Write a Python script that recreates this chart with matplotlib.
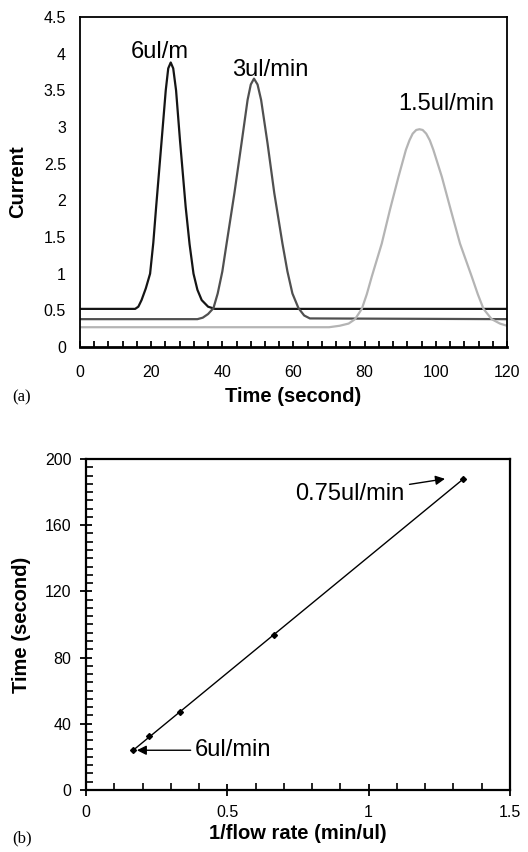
import numpy as np
import matplotlib
matplotlib.use("Agg")
import matplotlib.pyplot as plt
from matplotlib.ticker import MultipleLocator

plt.rcParams['font.family'] = ['Liberation Sans', 'DejaVu Sans']

# ---- (a) peaks ----
t_6 = [0, 15.5, 16.4, 17.3, 18.5, 19.7, 20.6, 21.4, 22.95, 24.1, 24.8, 25.5, 26.2, 27.0, 28.1, 29.7, 30.8, 31.9, 33.0, 34.2, 36.0, 37.9, 120]
i_6 = [0.52, 0.52, 0.55, 0.64, 0.80, 1.00, 1.42, 1.91, 2.82, 3.50, 3.80, 3.88, 3.80, 3.50, 2.82, 1.91, 1.40, 1.00, 0.78, 0.64, 0.55, 0.52, 0.52]

t_3 = [0, 33.0, 34.5, 36.0, 37.5, 38.7, 40.0, 41.2, 43.4, 45.4, 47.1, 48.0, 48.9, 49.9, 50.9, 52.7, 54.6, 56.9, 58.3, 59.7, 61.4, 63.0, 64.6, 120]
i_3 = [0.38, 0.38, 0.40, 0.45, 0.53, 0.73, 1.03, 1.41, 2.10, 2.78, 3.37, 3.58, 3.66, 3.58, 3.37, 2.78, 2.10, 1.41, 1.03, 0.73, 0.53, 0.43, 0.39, 0.38]

t_15 = [0, 70.0, 73.0, 75.5, 77.3, 79.2, 80.6, 82.0, 84.8, 87.1, 89.5, 91.6, 92.6, 93.5, 94.5, 95.4, 96.3, 97.3, 98.3, 99.3, 101.7, 104.2, 106.8, 110.1, 111.8, 113.4, 115.7, 118.0, 120]
i_15 = [0.27, 0.27, 0.29, 0.32, 0.38, 0.52, 0.72, 0.96, 1.41, 1.87, 2.32, 2.69, 2.82, 2.91, 2.96, 2.97, 2.96, 2.91, 2.82, 2.69, 2.32, 1.87, 1.41, 0.96, 0.72, 0.52, 0.38, 0.32, 0.29]

# ---- (b) peak time vs 1/flow rate ----
inv_flow = [1 / 6, 1 / 4.5, 1 / 3, 1 / 1.5, 1 / 0.75]
peak_time = [24, 32.5, 47, 93.5, 188]

fig = plt.figure(figsize=(5.28, 8.52), dpi=100)

# ================= (a) =================
ax1 = fig.add_axes([0.1515, 0.5927, 0.8087, 0.3873])
ax1.plot(t_6, i_6, color='#151515', lw=1.6, solid_joinstyle='round')
ax1.plot(t_3, i_3, color='#505050', lw=1.6, solid_joinstyle='round')
ax1.plot(t_15, i_15, color='#b4b4b4', lw=1.6, solid_joinstyle='round')

ax1.set_xlim(0, 120)
ax1.set_ylim(0, 4.5)
ax1.xaxis.set_major_locator(MultipleLocator(20))
ax1.xaxis.set_minor_locator(MultipleLocator(4))
ax1.set_yticks(np.arange(0, 4.51, 0.5))
ax1.set_yticklabels(["0", "0.5", "1", "1.5", "2", "2.5", "3", "3.5", "4", "4.5"])
ax1.tick_params(axis='x', which='both', direction='in', length=4, width=1.3, pad=13, labelsize=11.5)
ax1.tick_params(axis='y', which='both', length=0, pad=10, labelsize=11.5)
for s in ax1.spines.values():
    s.set_linewidth(1.3)
ax1.spines['bottom'].set_linewidth(2)

ax1.set_xlabel("Time (second)", fontsize=14.5, fontweight='bold', labelpad=5)
ax1.set_ylabel("Current", fontsize=14.5, fontweight='bold', labelpad=12)

ax1.text(22.5, 4.03, "6ul/m", fontsize=17, ha='center', va='center')
ax1.text(53.5, 3.78, "3ul/min", fontsize=17, ha='center', va='center')
ax1.text(102.8, 3.32, "1.5ul/min", fontsize=17, ha='center', va='center')
fig.text(22 / 528, 1 - 397 / 852, "(a)", family='Liberation Serif', fontsize=12, ha='center', va='center')

# ================= (b) =================
ax2 = fig.add_axes([0.1629, 0.0728, 0.803, 0.3885])
slope, icpt = np.polyfit(inv_flow, peak_time, 1)
xs = np.array([inv_flow[0], inv_flow[-1]])
ax2.plot(xs, slope * xs + icpt, color='k', lw=1.0)
ax2.plot(inv_flow, peak_time, 'D', color='k', ms=3)

ax2.set_xlim(0, 1.5)
ax2.set_ylim(0, 200)
ax2.set_xticks([0, 0.5, 1, 1.5])
ax2.set_xticklabels(["0", "0.5", "1", "1.5"])
ax2.xaxis.set_minor_locator(MultipleLocator(0.1))
ax2.set_yticks(np.arange(0, 201, 40))
ax2.yaxis.set_minor_locator(MultipleLocator(5))
ax2.tick_params(axis='both', which='major', direction='inout', length=9, width=1.3, labelsize=11.5)
ax2.tick_params(axis='x', which='major', pad=6)
ax2.tick_params(axis='y', which='major', pad=6)
ax2.tick_params(axis='both', which='minor', direction='in', length=5, width=1.2)
for s in ax2.spines.values():
    s.set_linewidth(1.6)

ax2.set_xlabel("1/flow rate (min/ul)", fontsize=14.5, fontweight='bold', labelpad=3)
ax2.set_ylabel("Time (second)", fontsize=14.5, fontweight='bold', labelpad=10)

ax2.annotate("0.75ul/min", xy=(1.27, 188), xytext=(1.125, 179), fontsize=17,
             ha='right', va='center',
             arrowprops=dict(arrowstyle='-|>', color='k', lw=1.0, mutation_scale=14,
                             shrinkA=2, shrinkB=0))
ax2.annotate("6ul/min", xy=(0.18, 24), xytext=(0.385, 24), fontsize=17,
             ha='left', va='center',
             arrowprops=dict(arrowstyle='-|>', color='k', lw=1.0, mutation_scale=14,
                             shrinkA=1, shrinkB=0))
fig.text(22 / 528, 1 - 838 / 852, "(b)", family='Liberation Serif', fontsize=12, ha='center', va='center')

fig.savefig("out.png", dpi=100)
